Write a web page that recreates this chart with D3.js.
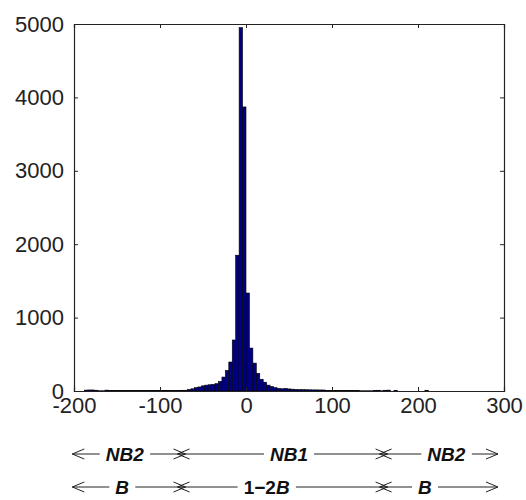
<!DOCTYPE html>
<html>
<head>
<meta charset="utf-8">
<script src="https://cdn.jsdelivr.net/npm/d3@7"></script>
<style>
  body { margin: 0; background: #fff; }
  text { font-family: "Liberation Sans", Arial, sans-serif; }
</style>
</head>
<body>
<script>
// histogram: bin width 4, left edges from -188
var binStart = -188,
    binWidth = 4;
var counts = [
  12, 14, 14, 10, 3, 3, 12, 5, 6, 5,          // -188 .. -152
  6, 5, 6, 6, 5, 6, 6, 7, 6, 7,               // -148 .. -112
  7, 8, 8, 8, 8, 8, 8, 9, 10, 10,             // -108 .. -72
  20, 30, 45, 55, 70, 80, 85, 90, 100, 130,   // -68 .. -32
  190, 280, 395, 695, 1850, 4950, 3870, 1335, 585, 380,  // -28 .. 12
  240, 160, 120, 80, 60, 45, 35, 30, 35, 28,  // 16 .. 52
  25, 20, 18, 18, 17, 16, 15, 15, 14, 14,     // 56 .. 92
  8, 8, 7, 7, 7, 7, 6, 6, 5, 5,               // 96 .. 132
  3, 3, 3, 3, 8, 10, 3, 10, 12, 0,            // 136 .. 172
  8, 0, 0, 0, 0, 0, 0, 0, 0, 10,              // 176 .. 212
  0, 0, 0                                     // 216 .. 224
];

var xTicks = [-200, -100, 0, 100, 200, 300];
var yTicks = [0, 1000, 2000, 3000, 4000, 5000];

// band annotations under the axis (data units)
var bandEdges = [-202, -75, 160, 293];
var nbLabels = ["NB2", "NB1", "NB2"];
var nbLabelPos = [-141, 50, 233];
var bLabels = [["", "B"], ["1\u22122", "B"], ["", "B"]];
var bLabelPos = [-144, 24, 208];

var w = 526,
    h = 500,
    marginLeft = 74,
    marginTop = 24,
    plotW = 430,
    plotH = 367;

var svg = d3.select("body").append("svg")
    .attr("width", w)
    .attr("height", h);

var x = d3.scaleLinear().domain([-200, 300]).range([marginLeft, marginLeft + plotW]);
var y = d3.scaleLinear().domain([0, 5000]).range([marginTop + plotH, marginTop]);

var bins = counts.map((c, i) => ({ x0: binStart + i * binWidth, x1: binStart + (i + 1) * binWidth, n: c }));

svg.append("g").selectAll("rect")
    .data(bins.filter(d => d.n > 0))
    .enter().append("rect")
    .attr("x", d => x(d.x0))
    .attr("width", d => x(d.x1) - x(d.x0))
    .attr("y", d => y(d.n))
    .attr("height", d => y(0) - y(d.n))
    .style("fill", "#000080")
    .style("stroke", "#000")
    .style("stroke-width", 0.6);

// axes, matlab style: ticks inward on all four sides
var tickLen = 4;
var plain = d => String(d);
var axisBottom = d3.axisBottom(x).tickValues(xTicks).tickSize(-tickLen).tickPadding(9).tickFormat(plain);
var axisTop = d3.axisTop(x).tickValues(xTicks).tickSize(-tickLen).tickFormat("");
var axisLeft = d3.axisLeft(y).tickValues(yTicks).tickSize(-tickLen).tickPadding(10).tickFormat(plain);
var axisRight = d3.axisRight(y).tickValues(yTicks).tickSize(-tickLen).tickFormat("");

var gb = svg.append("g").attr("transform", "translate(0," + (marginTop + plotH) + ")").call(axisBottom);
var gt = svg.append("g").attr("transform", "translate(0," + marginTop + ")").call(axisTop);
var gl = svg.append("g").attr("transform", "translate(" + marginLeft + ",0)").call(axisLeft);
var gr = svg.append("g").attr("transform", "translate(" + (marginLeft + plotW) + ",0)").call(axisRight);

[gb, gt, gl, gr].forEach(g => {
    g.select(".domain").attr("stroke", "#222").attr("stroke-width", 1.2);
    g.selectAll(".tick line").attr("stroke", "#222");
    g.selectAll("text")
        .attr("fill", "#222")
        .style("font-size", "22px")
        .style("font-family", "'Liberation Sans', Arial, sans-serif");
});
gb.selectAll("text").attr("dy", "0.6em");

// annotation rows
const arrowHead = (g, tip, yy, dir) => {
    // dir = -1 points left, 1 points right
    g.append("path")
        .attr("d", "M" + (tip - dir * 12) + "," + (yy - 5) + " L" + tip + "," + yy + " L" + (tip - dir * 12) + "," + (yy + 5))
        .attr("fill", "none").attr("stroke", "#222").attr("stroke-width", 1);
};

const drawRow = (yy, labelPos, drawLabel) => {
    var g = svg.append("g");
    labelPos.forEach((p, i) => {
        var a = x(bandEdges[i]),
            b = x(bandEdges[i + 1]);
        var t = drawLabel(g, x(p), yy, i);
        var bb = t.node().getBBox();
        g.append("line").attr("x1", i === 0 ? a : a - 4).attr("x2", bb.x - 6).attr("y1", yy).attr("y2", yy)
            .attr("stroke", "#222").attr("stroke-width", 1);
        g.append("line").attr("x1", bb.x + bb.width + 6).attr("x2", i === labelPos.length - 1 ? b : b + 4).attr("y1", yy).attr("y2", yy)
            .attr("stroke", "#222").attr("stroke-width", 1);
        // heads cross at the inner boundaries
        arrowHead(g, i === 0 ? a : a - 4, yy, -1);
        arrowHead(g, i === labelPos.length - 1 ? b : b + 4, yy, 1);
    });
};

drawRow(454, nbLabelPos, (g, cx, yy, i) => g.append("text")
    .attr("x", cx).attr("y", yy + 7)
    .attr("text-anchor", "middle")
    .style("font-size", "19px").style("font-weight", "bold").style("font-style", "italic")
    .attr("fill", "#111")
    .text(nbLabels[i]));

drawRow(487, bLabelPos, (g, cx, yy, i) => {
    var t = g.append("text")
        .attr("x", cx).attr("y", yy + 7)
        .attr("text-anchor", "middle")
        .style("font-size", "19px").style("font-weight", "bold")
        .attr("fill", "#111");
    if (bLabels[i][0]) t.append("tspan").text(bLabels[i][0]);
    t.append("tspan").style("font-style", "italic").text(bLabels[i][1]);
    return t;
});
</script>
</body>
</html>
